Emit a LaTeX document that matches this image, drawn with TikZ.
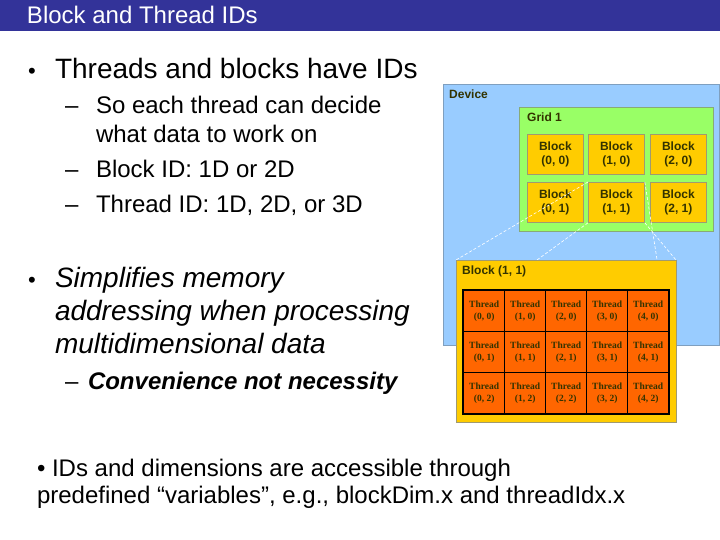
\documentclass[tikz,border=0pt]{standalone}
\usepackage{fontspec}
\setmainfont{Liberation Sans}
\newfontfamily\thrfont{Liberation Serif}
\usetikzlibrary{calc}
\definecolor{titlebg}{HTML}{333399}
\definecolor{devfill}{HTML}{99CCFF}
\definecolor{devline}{HTML}{7F9FBF}
\definecolor{gridfill}{HTML}{99FF66}
\definecolor{gridline}{HTML}{88AA77}
\definecolor{blkfill}{HTML}{FFCC00}
\definecolor{blkline}{HTML}{A09A70}
\definecolor{thrfill}{HTML}{FF6600}
\definecolor{lbl}{HTML}{333300}
\tikzset{
  txt/.style={anchor=base west, inner sep=0pt, outer sep=0pt},
  lone/.style={txt, font=\fontsize{28}{33}\selectfont},
  ltwo/.style={txt, font=\fontsize{24}{29}\selectfont},
  bul/.style={txt, font=\fontsize{22}{26}\selectfont},
  boxlbl/.style={anchor=west, inner sep=0pt, text=lbl, font=\bfseries\fontsize{12}{14}\selectfont},
  blockbox/.style={draw=blkline, fill=blkfill, line width=0.8pt, anchor=north west,
    minimum width=56pt, minimum height=40pt, inner sep=0pt, align=center,
    text=lbl, font=\bfseries\fontsize{12}{13.5}\selectfont},
  thrbox/.style={draw=black, fill=thrfill, line width=1.3pt, anchor=north west,
    minimum width=41pt, minimum height=41pt, inner sep=0pt, align=center,
    text=lbl, font=\thrfont\bfseries\fontsize{9.5}{11.5}\selectfont},
  link/.style={draw=white, dashed, line width=0.6pt, dash pattern=on 3pt off 2pt}
}
\begin{document}
\begin{tikzpicture}[x=1pt,y=-1pt]
\useasboundingbox (0,0) rectangle (720,540);
\fill[white] (0,0) rectangle (720,540);
% title bar
\fill[titlebg] (0,0) rectangle (720,31);
\node[txt, text=white, font=\fontsize{24}{28}\selectfont] (title) at (27,24) {Block and Thread IDs};
% left text
\node[bul] (b1) at (28,79) {•};
\node[lone] (t1) at (55,79) {Threads and blocks have IDs};
\node[ltwo] (d1) at (65,114) {–};
\node[ltwo] (t2) at (96,114) {So each thread can decide};
\node[ltwo] (t3) at (96,143) {what data to work on};
\node[ltwo] (d2) at (65,178) {–};
\node[ltwo] (t4) at (96,178) {Block ID: 1D or 2D};
\node[ltwo] (d3) at (65,212) {–};
\node[ltwo] (t5) at (96,212) {Thread ID: 1D, 2D, or 3D};
\node[bul] (b2) at (28,287) {•};
\node[lone, font=\itshape\fontsize{28}{33}\selectfont] (t6) at (55,287) {Simplifies memory};
\node[lone, font=\itshape\fontsize{28}{33}\selectfont] (t7) at (55,320) {addressing when processing};
\node[lone, font=\itshape\fontsize{28}{33}\selectfont] (t8) at (55,353) {multidimensional data};
\node[ltwo] (d4) at (65,389) {–};
\node[ltwo, font=\bfseries\itshape\fontsize{24}{29}\selectfont] (t9) at (88,389) {Convenience not necessity};
% bottom text
\node[ltwo] (t10) at (37,476) {• IDs and dimensions are accessible through};
\node[ltwo] (t11) at (37,503) {predefined “variables”, e.g., blockDim.x and threadIdx.x};
% device
\node[draw=devline, fill=devfill, line width=0.8pt, anchor=north west, minimum width=276pt, minimum height=261pt, inner sep=0pt] (dev) at (443,84) {};
\node[boxlbl] (devl) at (449,94) {Device};
% grid
\node[draw=gridline, fill=gridfill, line width=0.8pt, anchor=north west, minimum width=194pt, minimum height=124pt, inner sep=0pt] (grid) at (519,107) {};
\node[boxlbl] (gridl) at (527,117) {Grid 1};
% blocks
\node[blockbox] (b00) at (527,134) {Block\\(0, 0)};
\node[blockbox] (b10) at (588,134) {Block\\(1, 0)};
\node[blockbox] (b20) at (650,134) {Block\\(2, 0)};
\node[blockbox] (b01) at (527,182) {Block\\(0, 1)};
\node[blockbox] (b11) at (588,182) {Block\\(1, 1)};
\node[blockbox] (b21) at (650,182) {Block\\(2, 1)};
% big block
\path (456,260) coordinate (bbnw) (676,260) coordinate (bbne);
\coordinate (lb) at ($(bbnw)!0.368!(bbne)$);
\coordinate (lc) at ($(bbnw)!0.914!(bbne)$);
\draw[link] (b11.north west) -- (bbnw);
\draw[link] (b11.south west) -- (lb);
\draw[link] (b11.north east) -- (lc);
\draw[link] (b11.south east) -- (bbne);
\node[draw=blkline, fill=blkfill, line width=0.8pt, anchor=north west, minimum width=220pt, minimum height=162pt, inner sep=0pt] (bb) at (bbnw) {};
\node[boxlbl] (bbl) at (462,271) {Block (1, 1)};
% threads
\foreach \c in {0,...,4} {
  \foreach \r in {0,1,2} {
    \node[thrbox] (t\c\r) at ({463+41*\c},{290+41*\r}) {Thread\\(\c, \r)};
  }
}
\draw[black, line width=1.5pt] (t00.north west) rectangle (t42.south east);
\end{tikzpicture}
\end{document}
